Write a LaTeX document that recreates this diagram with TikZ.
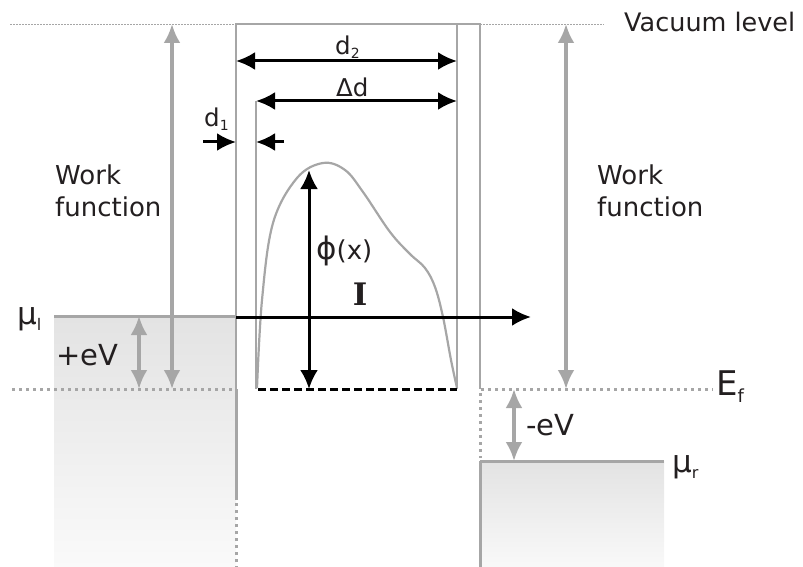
\documentclass[tikz,border=0pt]{standalone}
\usepackage{fontspec}
\setmainfont{DejaVu Sans}
\newfontfamily\slabfont{DejaVu Serif}
\usepackage{xcolor}
\usetikzlibrary{arrows.meta, positioning}
\definecolor{levgray}{HTML}{A6A6A6}
\definecolor{textgray}{HTML}{231F20}
% subscript: size, drop, text
\newcommand{\lowsub}[3]{\raisebox{-#2}{\fontsize{#1}{#1}\selectfont #3}}
\tikzstyle{frame} = [draw=levgray, line width=1.3pt]
\tikzstyle{band} = [draw=levgray, line width=3pt]
\tikzstyle{fermi} = [draw=levgray, line width=3pt, dash pattern=on 3pt off 4pt]
\tikzstyle{vac} = [draw=levgray, line width=0.8pt, dash pattern=on 1.5pt off 1.5pt]
\tikzstyle{garrow} = [draw=levgray, line width=3.5pt, {Latex[length=19pt,width=17pt]}-{Latex[length=19pt,width=17pt]}]
\tikzstyle{barrow} = [draw=black, line width=3pt, {Latex[length=19pt,width=18pt]}-{Latex[length=19pt,width=18pt]}]
\tikzstyle{sarrow} = [draw=black, line width=3pt, -{Latex[length=19pt,width=18pt]}]
\tikzstyle{lbl} = [font=\fontsize{26}{32}\selectfont, text=textgray, inner sep=0pt]
\tikzstyle{dlbl} = [lbl, font=\fontsize{24.5}{28}\selectfont, anchor=base west]
\tikzstyle{evlbl} = [lbl, font=\fontsize{29}{32}\selectfont, anchor=base west]
\tikzstyle{biglbl} = [lbl, font=\fontsize{31}{34}\selectfont, anchor=base west]

\begin{document}
\begin{tikzpicture}[x=1pt, y=-1pt]
    \useasboundingbox (0,0) rectangle (803,567);

    % Metal blocks
    \shade [top color=gray!22, bottom color=gray!4] (54,316) rectangle (236,567);
    \shade [top color=gray!22, bottom color=gray!5] (480,461) rectangle (664,567);

    % Levels
    \coordinate (vacL) at (10,24);
    \coordinate (vacR) at (604,24);
    \coordinate (fermiL) at (12,389);
    \coordinate (fermiR) at (713,389);
    \draw [vac] (vacL) -- (236,24);
    \draw [vac] (480,24) -- (vacR);
    \draw [fermi] (fermiL) -- (236,389);
    \draw [fermi] (481,389) -- (fermiR);

    % Barrier frame
    \draw [frame] (236,389) -- (236,24) -- (480,24) -- (480,389);
    \draw [frame] (457,24) -- (457,389);
    \draw [frame] (256,101) -- (256,389);
    \draw [band] (54,316) -- (236,316);
    \draw [band] (236,389) -- (236,500);
    \draw [fermi] (236,503) -- (236,567);
    \draw [fermi] (480,393) -- (480,458);
    \draw [band] (480,461) -- (664,461);
    \draw [band] (480,461) -- (480,567);

    % Barrier profile
    \draw [draw=levgray, line width=2.2pt] plot [smooth, tension=0.6] coordinates {(257,388) (262,300) (273,223) (297,178) (323,163) (345,170) (363,192) (390,232) (410,254) (425,268) (435,287) (443,317) (451,360) (457,388)};
    \draw [line width=3pt, dash pattern=on 8pt off 4pt] (258,389) -- (457,389);

    % Labels
    \node [lbl, font=\fontsize{25.5}{30}\selectfont, anchor=base west] (vacuum) at (624,32) {Vacuum level};
    \node [lbl, anchor=west, align=left] (wfL) at (55,191) {Work\\function};
    \node [lbl, anchor=west, align=left] (wfR) at (597,191) {Work\\function};
    \node [dlbl] (dtwo) at (335,55) {d\lowsub{14}{4pt}{2}};
    \node [dlbl] (ddelta) at (336,97) {Δd};
    \node [dlbl] (done) at (204,127) {d\lowsub{14}{4pt}{1}};
    \node [lbl, anchor=base west] (phi) at (316,259) {{\fontsize{31}{34}\selectfont ϕ}(x)};
    \node [lbl, font=\fontsize{31}{31}\selectfont\slabfont\bfseries] (cur) at (360,294) {I};
    \node [biglbl] (mul) at (17,324) {μ\lowsub{16}{6pt}{l}};
    \node [evlbl] (plusev) at (56,365) {+eV};
    \node [biglbl, font=\fontsize{34}{36}\selectfont] (ef) at (716,395) {E\lowsub{18}{7pt}{f}};
    \node [evlbl] (minusev) at (526,435) {-eV};
    \node [biglbl] (mur) at (672,472) {μ\lowsub{16}{6pt}{r}};

    % Arrows
    \coordinate (wfLtop) at (172,24);
    \coordinate (wfLbot) at (172,389);
    \coordinate (wfRtop) at (566,24);
    \coordinate (wfRbot) at (566,389);
    \draw [garrow] (wfLtop) -- (wfLbot);
    \draw [garrow] (wfRtop) -- (wfRbot);
    \draw [garrow] (139,316) -- (139,389);
    \draw [garrow] (514,389) -- (514,461);
    \draw [barrow] (236,61) -- (457,61);
    \draw [barrow] (256,101) -- (457,101);
    \draw [sarrow] (203,142) -- (236,142);
    \draw [sarrow] (284,142) -- (256,142);
    \draw [barrow] (309,170) -- (309,389);
    \draw [sarrow] (236,317) -- (531,317);
\end{tikzpicture}
\end{document}
